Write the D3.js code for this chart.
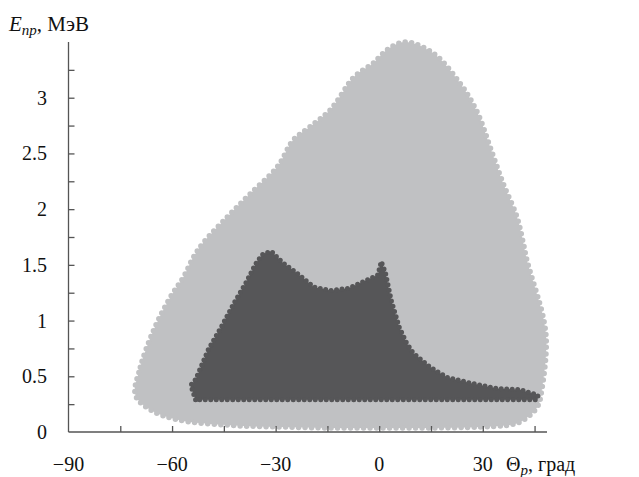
<!DOCTYPE html>
<html>
<head>
<meta charset="utf-8">
<script src="https://cdn.jsdelivr.net/npm/d3@7"></script>
<style>
  body { margin: 0; background: #fff; }
</style>
</head>
<body>
<svg id="chart" width="639" height="477" font-family="'Liberation Serif', 'Times New Roman', Times, serif"></svg>
<script>
// outer envelope of all events: [theta, E]
const allEvents = [
  [-70.6, 0.33], [-69.2, 0.58], [-65.4, 0.91], [-60.5, 1.21], [-56.7, 1.39],
  [-53.8, 1.57], [-50.9, 1.70], [-44.0, 1.93], [-37.3, 2.14], [-29.5, 2.38],
  [-24.9, 2.62], [-20.0, 2.74], [-14.2, 2.89], [-7.5, 3.18], [-4.6, 3.25],
  [-1.7, 3.31], [2.3, 3.43], [7.4, 3.50], [15.6, 3.40], [23.4, 3.13],
  [28.4, 2.87], [32.1, 2.56], [35.9, 2.23], [39.9, 1.93], [41.7, 1.70],
  [42.8, 1.54], [47.5, 1.03], [48.4, 0.80], [47.2, 0.40], [45.7, 0.22],
  [40.8, 0.09], [37.0, 0.06], [29.2, 0.045], [14.8, 0.036], [0.3, 0.036],
  [-14.2, 0.036], [-28.6, 0.045], [-43.1, 0.06], [-58.4, 0.11], [-66.3, 0.20]
];

// envelope of selected events (dark region)
const selEvents = [
  [-53.2, 0.29], [-54.6, 0.42], [-53.2, 0.47], [-49.5, 0.74], [-45.8, 0.94],
  [-42.0, 1.16], [-38.6, 1.34], [-35.6, 1.52], [-33.6, 1.60], [-31.2, 1.62],
  [-28.0, 1.52], [-24.0, 1.43], [-18.9, 1.30], [-14.0, 1.27], [-8.8, 1.29],
  [-3.8, 1.36], [-0.4, 1.41], [0.6, 1.53], [1.8, 1.43], [3.5, 1.18],
  [5.8, 0.94], [7.9, 0.80], [9.8, 0.71], [14.8, 0.58], [19.7, 0.49],
  [26.3, 0.44], [34.1, 0.39], [40.8, 0.38], [46.0, 0.33], [45.7, 0.29]
];

const xTickLabels = [-90, -60, -30, 0, 30];
const xMinorTicks = [-75, -60, -45, -30, -15, 0, 15, 30, 45];
const yTickLabels = [0, 0.5, 1, 1.5, 2, 2.5, 3];
const yMinorTicks = [0.25, 0.5, 0.75, 1, 1.25, 1.5, 1.75, 2, 2.25, 2.5, 2.75, 3, 3.25];

const svg = d3.select("#chart");

let x = d3.scaleLinear().domain([-90, 48.6]).range([68.5, 547]);
let y = d3.scaleLinear().domain([0, 3.5]).range([432, 42]);

const axisColor = "#555";

// light cloud
svg.append("path")
  .datum(allEvents)
  .attr("d", d3.line().x(d => x(d[0])).y(d => y(d[1])).curve(d3.curveCatmullRomClosed.alpha(0.5)))
  .attr("fill", "#c0c1c3")
  .attr("stroke", "#c0c1c3")
  .attr("stroke-width", 5.5)
  .attr("stroke-linecap", "round")
  .attr("stroke-dasharray", "0 6.5");

// dark cloud
svg.append("path")
  .datum(selEvents)
  .attr("d", d3.line().x(d => x(d[0])).y(d => y(d[1])).curve(d3.curveLinearClosed))
  .attr("fill", "#565658")
  .attr("stroke", "#565658")
  .attr("stroke-width", 5)
  .attr("stroke-linecap", "round")
  .attr("stroke-dasharray", "0 5.5");

// axes
let xAxis = svg.append("g").attr("transform", "translate(0," + y(0) + ")");
xAxis.call(d3.axisTop(x).tickValues(xMinorTicks).tickSize(6).tickFormat(""));
xAxis.select(".domain").attr("d", "M" + x(-90) + ",0H" + x(48.6));
xAxis.selectAll("line, path").attr("stroke", axisColor).attr("stroke-width", 1.3);

svg.append("g").selectAll("text")
  .data(xTickLabels)
  .join("text")
  .attr("x", d => x(d))
  .attr("y", 471)
  .attr("text-anchor", "middle")
  .attr("font-size", 20)
  .attr("fill", "#111")
  .text(d => d3.format("")(d));

let yAxis = svg.append("g").attr("transform", "translate(" + x(-90) + ",0)");
yAxis.call(d3.axisRight(y).tickValues(yMinorTicks).tickSize(6).tickFormat(""));
yAxis.select(".domain").attr("d", "M0," + y(3.5) + "V" + y(0));
yAxis.selectAll("line, path").attr("stroke", axisColor).attr("stroke-width", 1.3);

svg.append("g").selectAll("text")
  .data(yTickLabels)
  .join("text")
  .attr("x", 47)
  .attr("y", d => y(d))
  .attr("dy", "0.35em")
  .attr("text-anchor", "end")
  .attr("font-size", 20)
  .attr("fill", "#111")
  .text(d => d);

// axis titles
let yTitle = svg.append("text").attr("x", 9).attr("y", 31).attr("font-size", 21).attr("fill", "#111");
yTitle.append("tspan").attr("font-style", "italic").text("E");
yTitle.append("tspan").attr("font-style", "italic").attr("font-size", 15).attr("dy", 4).text("np");
yTitle.append("tspan").attr("dy", -4).text(", МэВ");

let xTitle = svg.append("text").attr("x", 506).attr("y", 471).attr("font-size", 20).attr("fill", "#111");
xTitle.append("tspan").text("Θ");
xTitle.append("tspan").attr("font-style", "italic").attr("font-size", 15).attr("dy", 4).text("p");
xTitle.append("tspan").attr("dy", -4).text(", град");
</script>
</body>
</html>
